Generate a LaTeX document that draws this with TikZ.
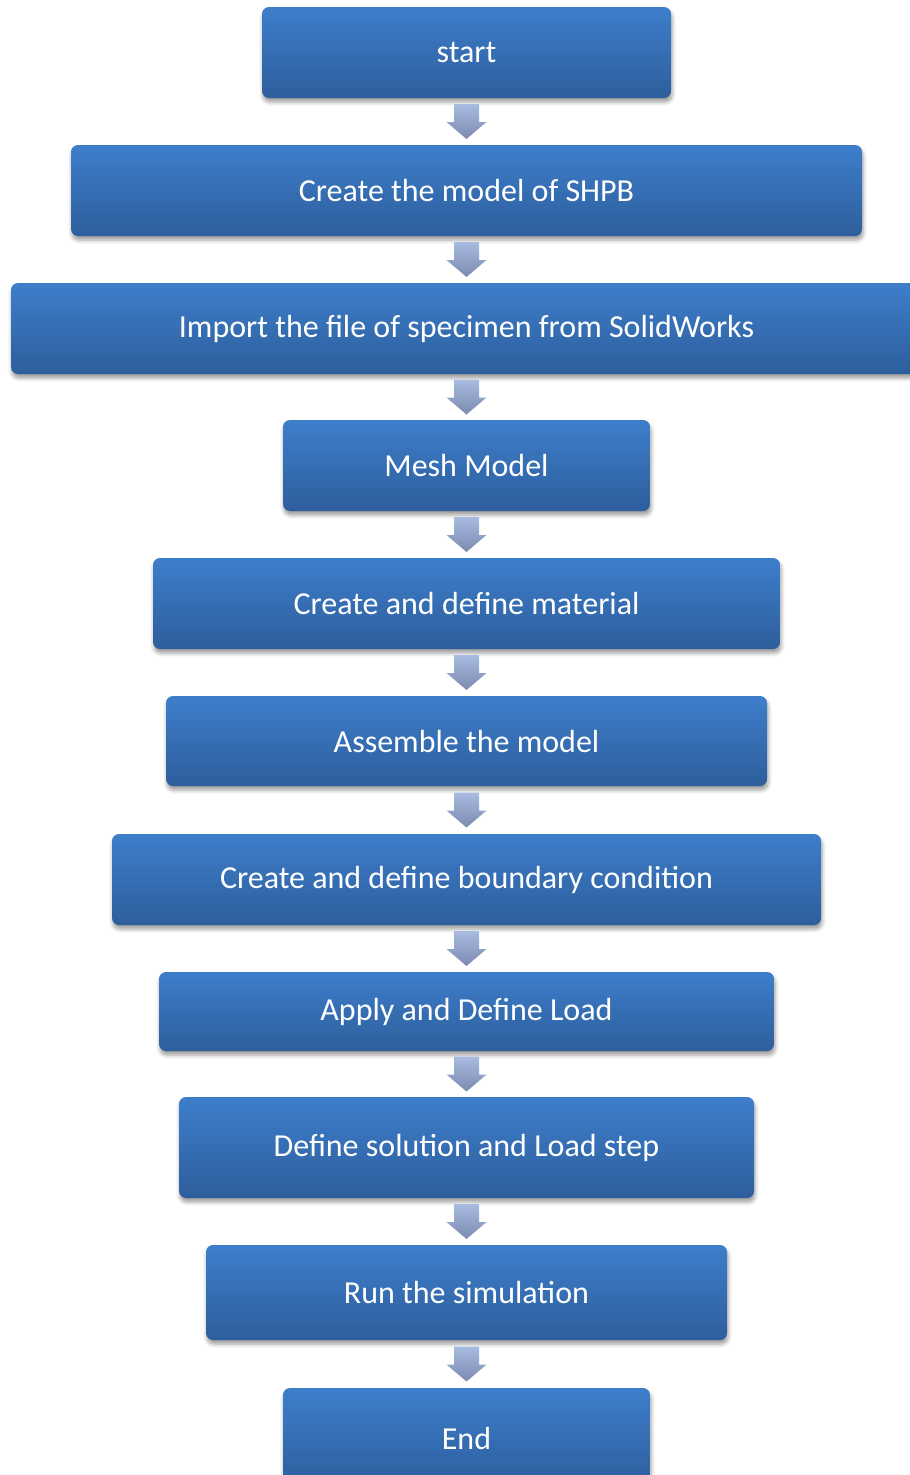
\documentclass[tikz,border=0pt]{standalone}
\usepackage{fontspec}
\setmainfont{Carlito}
\usetikzlibrary{calc,shadows.blur}
\definecolor{boxtop}{RGB}{61,126,203}
\definecolor{boxbot}{RGB}{46,94,156}
\definecolor{arrtop}{RGB}{168,187,224}
\definecolor{arrbot}{RGB}{124,138,176}
\tikzset{
	stepbox/.style={rectangle, rounded corners=7pt, inner sep=0pt,
		top color=boxtop, bottom color=boxbot, text=white,
		blur shadow={shadow xshift=1pt, shadow yshift=-4pt, shadow blur radius=4pt},
		font=\fontsize{32}{36}\selectfont},
	flowarrow/.style={top color=arrtop, bottom color=arrbot}
}
\begin{document}
\begin{tikzpicture}[x=1pt, y=-1pt, line join=round]
	\useasboundingbox (0,0) rectangle (910,1475);
	%Các bước
	\foreach \n/\y/\w/\h/\t in {
		s1/52.5/409/91/start,
		s2/190.5/791/91/Create the model of SHPB,
		s3/328.5/911/91/Import the file of specimen from SolidWorks,
		s4/465.5/367/91/Mesh Model,
		s5/603.5/627/91/Create and define material,
		s6/741/601/90/Assemble the model,
		s7/879.5/709/91/Create and define boundary condition,
		s8/1011.5/615/79/Apply and Define Load,
		s9/1147.5/575/101/Define solution and Load step,
		s10/1292.5/521/95/Run the simulation,
		s11/1438/367/100/End}
	\node[stepbox, minimum width=\w pt, minimum height=\h pt] (\n) at (466.5,\y) {\t};
	%Mũi tên giữa các bước
	\foreach \a/\b in {s1/s2, s2/s3, s3/s4, s4/s5, s5/s6, s6/s7, s7/s8, s8/s9, s9/s10, s10/s11}
	{
	\path ($(\a.south)!0.5!(\b.north)$) coordinate (m);
	\shade[flowarrow] ($(m)+(-12.5,-17.5)$) -- ++(25,0) -- ++(0,18) -- ++(7.5,0)
		-- ($(m)+(0,17.5)$) -- ($(m)+(-20,0.5)$) -- ++(7.5,0) -- cycle;
	}
\end{tikzpicture}
\end{document}
